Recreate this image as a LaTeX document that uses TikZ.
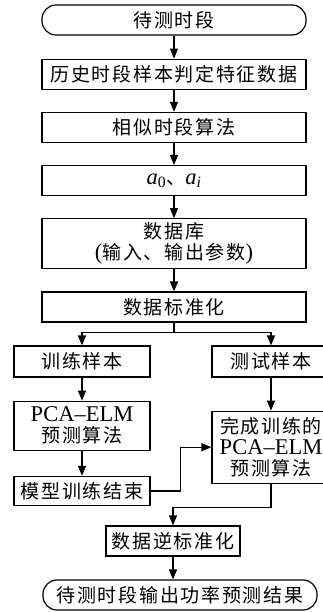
\documentclass[tikz,border=0pt]{standalone}
\usepackage{fontspec}
\setmainfont{Liberation Serif}
\newfontfamily\cjk{Noto Sans CJK SC}[LetterSpace=9]
\usetikzlibrary{positioning,arrows.meta}
\newcommand{\zh}[1]{{\cjk #1}}
\newcommand{\en}[1]{{\fontsize{22.5}{21}\selectfont #1}}
\tikzset{
  flow-box/.style={draw,line width=1.2pt,minimum height=30pt,minimum width=264pt,
    inner sep=1pt,align=center,font=\fontsize{19}{21}\selectfont},
  flow-term/.style={flow-box,rounded corners=14pt},
  flow-half/.style={flow-box,minimum width=136pt},
  flow-side/.style={flow-box,minimum width=118pt},
  arrow/.style={-{Triangle[length=10pt,width=8pt]},line width=1.2pt},
}
\begin{document}
\begin{tikzpicture}[x=1pt,y=1pt,node distance=22pt]
  \useasboundingbox (0,0) rectangle (323,-612);
  % main column
  \node[flow-term] (start) at (174,-20) {\zh{待测时段}};
  \node[flow-box,below=23pt of start] (hist) {\zh{历史时段样本判定特征数据}};
  \node[flow-box,below=of hist] (simi) {\zh{相似时段算法}};
  \node[flow-box,below=of simi] (coef)
    {\en{\textit{a}\textsubscript{0}}\zh{、}\en{\textit{a}\textsubscript{\textit{i}}}};
  \node[flow-box,minimum height=50pt,below=of coef] (db)
    {\zh{数据库}\\\en{(}\zh{输入、输出参数}\en{)}};
  \node[flow-box,below=of db] (norm) {\zh{数据标准化}};
  % two branches
  \node[flow-half,minimum height=31pt] (train) at (82,-361.5) {\zh{训练样本}};
  \node[flow-side,minimum height=31pt] (test) at (271,-361.5) {\zh{测试样本}};
  \node[flow-half,minimum height=49pt,below=23pt of train] (pca)
    {\en{PCA--ELM}\\\zh{预测算法}};
  \node[flow-half,minimum height=29pt,below=25pt of pca] (over) {\zh{模型训练结束}};
  \node[flow-side,minimum height=72pt,below=33pt of test] (done)
    {\zh{完成训练的}\\\en{PCA--ELM}\\\zh{预测算法}};
  % end
  \node[flow-box,minimum width=134pt] (denorm) at (173,-541) {\zh{数据逆标准化}};
  \node[flow-term,minimum width=274pt] (result) at (180,-595)
    {\zh{待测时段输出功率预测结果}};
  \draw[arrow] (start) -- (hist);
  \draw[arrow] (hist) -- (simi);
  \draw[arrow] (simi) -- (coef);
  \draw[arrow] (coef) -- (db);
  \draw[arrow] (db) -- (norm);
  \draw[arrow] (norm.south) -- ++(0,-10pt) -| (train);
  \draw[arrow] (norm.south) -- ++(0,-10pt) -| (test);
  \draw[arrow] (train) -- (pca);
  \draw[arrow] (pca) -- (over);
  \draw[arrow] (test) -- (done);
  \draw[arrow] (over.east) -- ++(30pt,0) |- (done.west);
  \draw[arrow] (done.south) -- ++(0,-24pt) -| (denorm);
  \draw[arrow] (denorm.south) -- (denorm.south |- result.north);
\end{tikzpicture}
\end{document}
